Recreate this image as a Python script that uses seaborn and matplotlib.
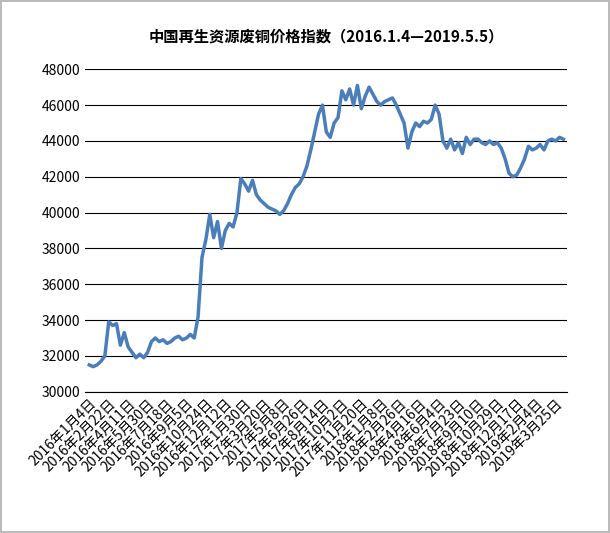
import matplotlib.pyplot as plt
from matplotlib import font_manager
import seaborn as sns
import pandas as pd

# Find an installed CJK font by name
cjk = [f.name for f in font_manager.fontManager.ttflist if 'CJK' in f.name]
sc = [n for n in cjk if 'SC' in n]
family = (sc or cjk or ['DejaVu Sans'])[0]
plt.rcParams['font.family'] = [family, 'DejaVu Sans']

# Tick labels (one every five points)
tick_labels = ['2016年1月4日', '2016年2月22日', '2016年4月11日', '2016年5月30日', '2016年7月18日',
               '2016年9月5日', '2016年10月24日', '2016年12月12日', '2017年1月30日', '2017年3月20日',
               '2017年5月8日', '2017年6月26日', '2017年8月14日', '2017年10月2日', '2017年11月20日',
               '2018年1月8日', '2018年2月26日', '2018年4月16日', '2018年6月4日', '2018年7月23日',
               '2018年9月10日', '2018年10月29日', '2018年12月17日', '2019年2月4日', '2019年3月25日']

prices = [31500, 31400, 31500, 31700, 32000,
          33900, 33700, 33800, 32600, 33300,
          32500, 32200, 31900, 32100, 31900,
          32200, 32800, 33000, 32800, 32900,
          32700, 32800, 33000, 33100, 32900,
          33000, 33200, 33000, 34200, 37500,
          38500, 39900, 38600, 39500, 38000,
          39000, 39400, 39200, 40000, 41900,
          41600, 41200, 41800, 41000, 40700,
          40500, 40300, 40200, 40100, 39900,
          40100, 40500, 41000, 41400, 41600,
          42000, 42600, 43500, 44500, 45500,
          46000, 44500, 44200, 45000, 45300,
          46800, 46300, 46900, 46000, 47100,
          45800, 46500, 47000, 46600, 46200,
          46000, 46200, 46300, 46400, 46000,
          45500, 45000, 43600, 44500, 45000,
          44800, 45100, 45000, 45200, 46000,
          45500, 44000, 43600, 44100, 43500,
          43900, 43300, 44200, 43800, 44100,
          44100, 43900, 43800, 44000, 43800,
          43900, 43600, 43000, 42200, 42000,
          42100, 42500, 43000, 43700, 43500,
          43600, 43800, 43500, 44000, 44100,
          44000, 44200, 44100]

df = pd.DataFrame({'x': range(len(prices)), 'price': prices})

fig, ax = plt.subplots(figsize=(6.1, 5.33), dpi=100)
fig.patch.set_edgecolor('#bbbbbb')
fig.patch.set_linewidth(1.5)

sns.lineplot(data=df, x='x', y='price', ax=ax, color='#4a7ebb', linewidth=2.5)

ax.set_ylim(30000, 48000)
ax.set_yticks(range(30000, 48001, 2000))
ax.set_xlim(-1, len(prices))
ax.set_xticks(range(0, 5 * len(tick_labels), 5))
ax.set_xticklabels(tick_labels, rotation=45, ha='right', fontsize=10, rotation_mode='anchor')
ax.tick_params(axis='y', labelsize=10, length=0)
ax.tick_params(axis='x', length=0)
ax.yaxis.grid(True, color='black', linewidth=0.8)
ax.set_axisbelow(True)
for s in ['top', 'right', 'left']:
    ax.spines[s].set_visible(False)
ax.spines['bottom'].set_color('black')
ax.set_xlabel('')
ax.set_ylabel('')
ax.set_title('中国再生资源废铜价格指数（2016.1.4—2019.5.5）', fontsize=11, fontweight='bold', pad=20)

plt.subplots_adjust(left=0.14, right=0.93, top=0.87, bottom=0.265)
plt.savefig('out.png')
